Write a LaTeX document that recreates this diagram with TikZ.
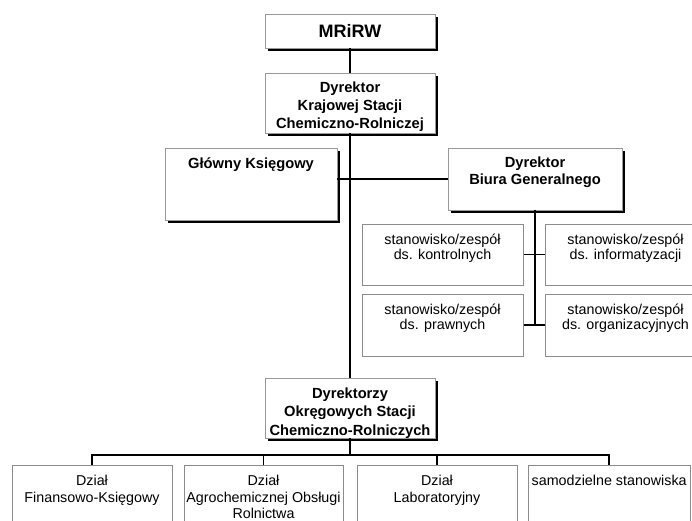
\documentclass[tikz,border=0pt]{standalone}
\usepackage{fontspec}
\setmainfont{Liberation Sans}
\usetikzlibrary{shadows,positioning}
\begin{document}
\begin{tikzpicture}[x=1pt,y=-1pt,
  shbox/.style={draw=black!40, line width=0.9pt, fill=white, inner sep=0pt,
    general shadow={fill=black, shadow xshift=3pt, shadow yshift=-3pt}},
  gbox/.style={draw=black!45, line width=1pt, fill=white, inner sep=0pt},
  conn/.style={draw=black, line width=1.1pt},
  btxt/.style={font=\fontsize{14.7}{18.3}\selectfont\bfseries, align=center, inner sep=0pt},
  rtxt/.style={font=\fontsize{14.3}{15}\selectfont, align=center, inner sep=0pt},
  dtxt/.style={font=\fontsize{14.3}{16.5}\selectfont, align=center, inner sep=0pt},
]
\useasboundingbox (0,0) rectangle (692,521);
\clip (0,0) rectangle (692,521);

% boxes
\node[shbox, minimum width=170pt, minimum height=34pt] (mrirw) at (350,31) {};
\node[shbox, minimum width=170pt, minimum height=60pt] (kraj) at (350,103) {};
\node[shbox, minimum width=172pt, minimum height=72pt] (glowny) at (251,184) {};
\node[shbox, minimum width=174pt, minimum height=62pt] (biura) at (535,179) {};
\node[gbox, minimum width=161pt, minimum height=61pt] (kontr) at (442.5,254.5) {};
\node[gbox, minimum width=161pt, minimum height=62pt] (prawn) at (442.5,325) {};
\node[gbox, minimum width=161pt, minimum height=61pt] (inform) at (625.5,254.5) {};
\node[gbox, minimum width=161pt, minimum height=62pt] (organ) at (625.5,325) {};
\node[shbox, minimum width=170pt, minimum height=60pt] (dyrz) at (350,408) {};
\node[gbox, minimum width=160pt, minimum height=80pt] (fin) at (92,505) {};
\node[gbox, minimum width=159pt, minimum height=80pt] (agro) at (263.5,505) {};
\node[gbox, minimum width=160pt, minimum height=80pt] (lab) at (437,505) {};
\node[gbox, minimum width=162pt, minimum height=80pt] (samo) at (609,505) {};

% texts
\node[font=\fontsize{18}{20}\selectfont\bfseries, inner sep=0pt] (tmrirw) at (mrirw.center) {MRiRW};
\node[btxt, below=9pt of kraj.north] (tkraj) {Dyrektor\\Krajowej Stacji\\Chemiczno-Rolniczej};
\node[btxt, below=9.5pt of glowny.north] (tglowny) {Główny Księgowy};
\node[btxt, below=9.5pt of biura.north, font=\fontsize{14.7}{17}\selectfont\bfseries] (tbiura) {Dyrektor\\Biura Generalnego};
\node[rtxt, below=10pt of kontr.north] (tkontr) {stanowisko/zespół\\ds. kontrolnych};
\node[rtxt, below=10pt of prawn.north] (tprawn) {stanowisko/zespół\\ds. prawnych};
\node[rtxt, below=10pt of inform.north] (tinform) {stanowisko/zespół\\ds. informatyzacji};
\node[rtxt, below=10pt of organ.north] (torgan) {stanowisko/zespół\\ds. organizacyjnych};
\node[btxt, below=10pt of dyrz.north] (tdyrz) {Dyrektorzy\\Okręgowych Stacji\\Chemiczno-Rolniczych};
\node[dtxt, below=10.5pt of fin.north] (tfin) {Dział\\Finansowo-Księgowy};
\node[dtxt, below=10.5pt of agro.north] (tagro) {Dział\\Agrochemicznej Obsługi\\Rolnictwa};
\node[dtxt, below=10.5pt of lab.north] (tlab) {Dział\\Laboratoryjny};
\node[dtxt, anchor=north west, inner sep=0pt] (tsamo) at ([xshift=4pt,yshift=-10.5pt]samo.north west) {samodzielne stanowiska};

% connectors
\draw[conn] (mrirw.south) -- (kraj.north);
\draw[conn] (kraj.south) -- (dyrz.north);
\draw[conn] (glowny.east |- biura.west) -- (biura.west);
\draw[conn] (biura.south) -- (biura.south |- prawn.east);
\draw[conn] (kontr.east) -- (inform.west);
\draw[conn] (prawn.east) -- (organ.west);
\coordinate (bus) at (350,455);
\draw[conn] (dyrz.south) -- (bus);
\draw[conn] (fin.north) |- (bus) -| (samo.north);
\draw[conn] (agro.north) -- (agro.north |- bus);
\draw[conn] (lab.north) -- (lab.north |- bus);
\end{tikzpicture}
\end{document}
